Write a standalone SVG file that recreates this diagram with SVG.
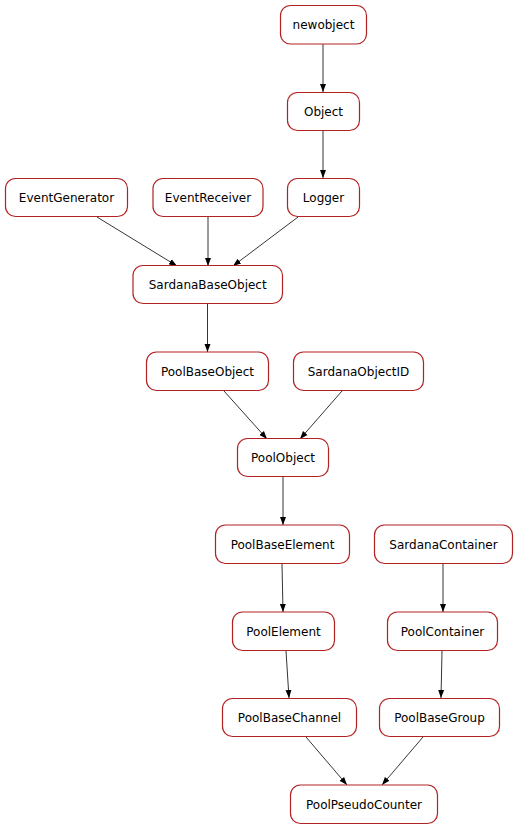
<svg xmlns="http://www.w3.org/2000/svg" width="519" height="829" viewBox="0 0 519 829">
  <style>
    .node rect { fill: #ffffff; stroke: #b22222; stroke-width: 1.2; }
    .node text { font-family: "DejaVu Sans", sans-serif; font-size: 12px; fill: #000000; text-anchor: middle; }
    .edges line { stroke: #000000; stroke-width: 0.8; marker-end: url(#arrow); }
  </style>
  <defs>
    <marker id="arrow" markerUnits="userSpaceOnUse" markerWidth="8" markerHeight="8" viewBox="0 0 8 8" refX="8" refY="4" orient="auto">
      <path d="M0,1 L8,4 L0,7 Z" fill="#000000"/>
    </marker>
  </defs>
  <rect width="519" height="829" fill="#ffffff"/>

  <g class="edges">
    <line x1="323" y1="44" x2="323" y2="92"/>
    <line x1="323" y1="130.5" x2="323" y2="178"/>
    <line x1="97" y1="217" x2="177" y2="266"/>
    <line x1="208" y1="217" x2="208" y2="266"/>
    <line x1="298" y1="217" x2="233" y2="266"/>
    <line x1="207.5" y1="304" x2="207.5" y2="352"/>
    <line x1="224" y1="391" x2="267" y2="439"/>
    <line x1="342" y1="391" x2="300" y2="439"/>
    <line x1="283" y1="476" x2="283" y2="525"/>
    <line x1="282" y1="564" x2="283" y2="612"/>
    <line x1="443" y1="564" x2="443" y2="612"/>
    <line x1="286" y1="651" x2="289" y2="698"/>
    <line x1="442" y1="651" x2="441" y2="698"/>
    <line x1="306" y1="737" x2="347" y2="785"/>
    <line x1="423" y1="737" x2="382" y2="785"/>
  </g>

  <g id="newobject" class="node"><rect x="280.5" y="5.5" width="86" height="38.5" rx="10"/><text x="323.5" y="29">newobject</text></g>
  <g id="Object" class="node"><rect x="287.5" y="92.5" width="72" height="38" rx="10"/><text x="323.5" y="116">Object</text></g>
  <g id="EventGenerator" class="node"><rect x="5.5" y="178.5" width="122" height="38" rx="10"/><text x="66.5" y="202">EventGenerator</text></g>
  <g id="EventReceiver" class="node"><rect x="153" y="178.5" width="110" height="38" rx="10"/><text x="208" y="202">EventReceiver</text></g>
  <g id="Logger" class="node"><rect x="287.5" y="178.5" width="72" height="38" rx="10"/><text x="323.5" y="202">Logger</text></g>
  <g id="SardanaBaseObject" class="node"><rect x="133" y="265.5" width="149.5" height="38" rx="10"/><text x="207.7" y="289">SardanaBaseObject</text></g>
  <g id="PoolBaseObject" class="node"><rect x="146.5" y="352" width="122" height="38.5" rx="10"/><text x="207.5" y="375.5">PoolBaseObject</text></g>
  <g id="SardanaObjectID" class="node"><rect x="293.5" y="352" width="130" height="38.5" rx="10"/><text x="358.5" y="375.5">SardanaObjectID</text></g>
  <g id="PoolObject" class="node"><rect x="237.5" y="438.5" width="91" height="38" rx="10"/><text x="283" y="462">PoolObject</text></g>
  <g id="PoolBaseElement" class="node"><rect x="215.5" y="525" width="134" height="38.5" rx="10"/><text x="282.5" y="548.5">PoolBaseElement</text></g>
  <g id="SardanaContainer" class="node"><rect x="374.5" y="525" width="138" height="38.5" rx="10"/><text x="443.5" y="548.5">SardanaContainer</text></g>
  <g id="PoolElement" class="node"><rect x="232.5" y="612" width="102" height="38.5" rx="10"/><text x="283.5" y="635.5">PoolElement</text></g>
  <g id="PoolContainer" class="node"><rect x="387.5" y="612" width="110" height="38.5" rx="10"/><text x="442.5" y="635.5">PoolContainer</text></g>
  <g id="PoolBaseChannel" class="node"><rect x="222.5" y="698.5" width="134" height="38" rx="10"/><text x="289.5" y="722">PoolBaseChannel</text></g>
  <g id="PoolBaseGroup" class="node"><rect x="379.5" y="698.5" width="120" height="38" rx="10"/><text x="439.5" y="722">PoolBaseGroup</text></g>
  <g id="PoolPseudoCounter" class="node"><rect x="290.5" y="785" width="147" height="38.5" rx="10"/><text x="364" y="808.5">PoolPseudoCounter</text></g>
</svg>
